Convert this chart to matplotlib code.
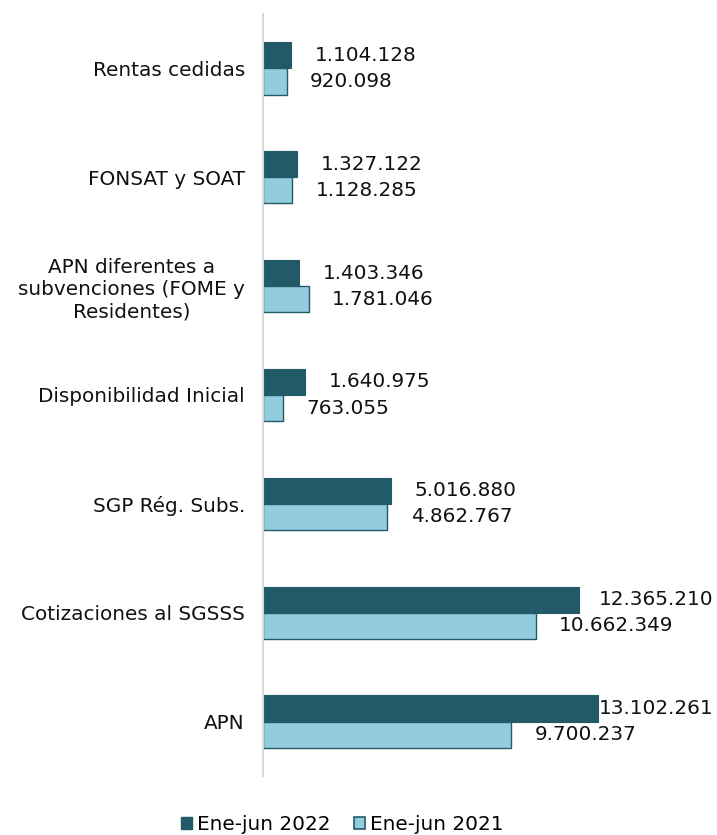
import numpy as np
import matplotlib
matplotlib.use("Agg")
import matplotlib.pyplot as plt
from matplotlib.patches import Patch
import matplotlib.transforms as mtransforms

categories = [
    "Rentas cedidas",
    "FONSAT y SOAT",
    "APN diferentes a\nsubvenciones (FOME y\nResidentes)",
    "Disponibilidad Inicial",
    "SGP Rég. Subs.",
    "Cotizaciones al SGSSS",
    "APN",
]
values_2022 = [1104128, 1327122, 1403346, 1640975, 5016880, 12365210, 13102261]
values_2021 = [920098, 1128285, 1781046, 763055, 4862767, 10662349, 9700237]
series_names = ["Ene-jun 2022", "Ene-jun 2021"]

DARK = "#235a68"
LIGHT = "#93cddd"
FS = 14.4


def fmt(v):
    # thousands separated with dots
    return f"{v:,}".replace(",", ".")


fig = plt.figure(figsize=(7.17, 8.35), dpi=100)
ax = fig.add_axes([0.3668, 0.0707, 0.6276, 0.9125])

n = len(categories)
y = np.arange(n)
h = 0.24

ax.barh(y - h / 2, values_2022, height=h, color=DARK, edgecolor=DARK, linewidth=0.8)
ax.barh(y + h / 2, values_2021, height=h, color=LIGHT, edgecolor=DARK, linewidth=1.0)

ax.set_xlim(0, 17.6e6)
ax.set_ylim(n - 0.5, -0.5)

ax.set_yticks(y)
ax.set_yticklabels(categories, fontsize=FS, multialignment="center", color="#111111")
ax.tick_params(axis="y", length=0, pad=13)
ax.set_xticks([])
for side in ["top", "right", "bottom"]:
    ax.spines[side].set_visible(False)
ax.spines["left"].set_color("#d9d9d9")
ax.spines["left"].set_linewidth(1.5)

# value labels, kept inside the figure on the right
fig.canvas.draw()
renderer = fig.canvas.get_renderer()
right_px = 713
offset = mtransforms.offset_copy(ax.transData, fig=fig, x=17, y=0, units="points")
for vals, dy in [(values_2022, -h / 2), (values_2021, h / 2)]:
    for i, v in enumerate(vals):
        t = ax.text(v, i + dy, fmt(v), transform=offset, ha="left", va="center",
                    fontsize=FS, color="#111111")
        bb = t.get_window_extent(renderer)
        if bb.x1 > right_px:
            shift = (bb.x1 - right_px) * 72 / fig.dpi
            t.set_transform(mtransforms.offset_copy(ax.transData, fig=fig, x=17 - shift,
                                                    y=0, units="points"))

handles = [
    Patch(facecolor=DARK, edgecolor=DARK, label=series_names[0]),
    Patch(facecolor=LIGHT, edgecolor=DARK, linewidth=1.2, label=series_names[1]),
]
fig.legend(handles=handles, loc="center", bbox_to_anchor=(0.477, 0.013), ncol=2,
           frameon=False, handlelength=0.55, handleheight=0.55, handletextpad=0.25,
           columnspacing=1.2, borderpad=0, prop={"size": FS})

fig.savefig("out.png", dpi=100)
